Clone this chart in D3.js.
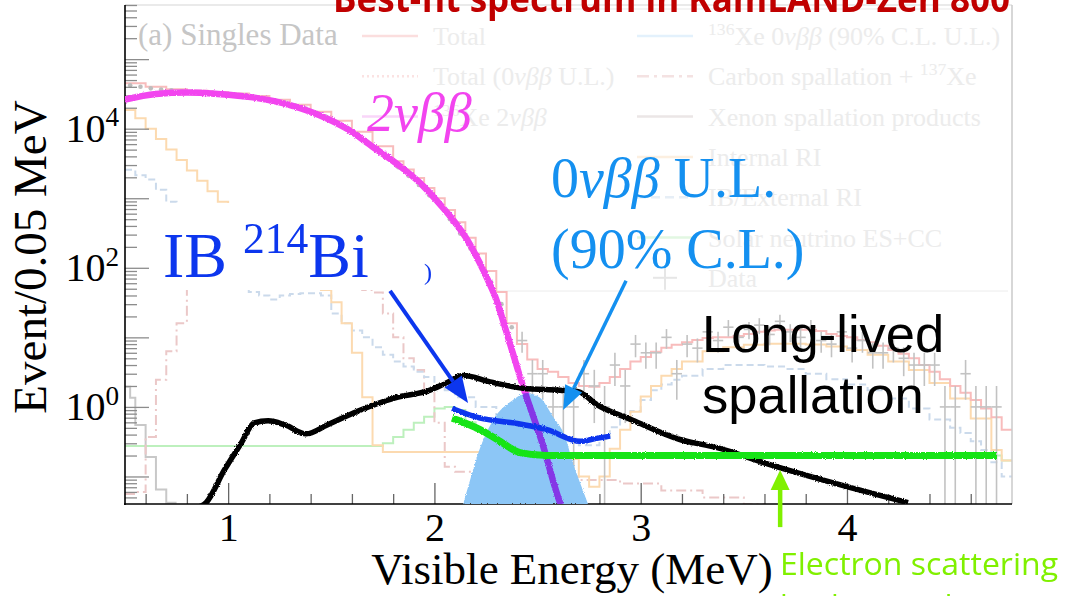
<!DOCTYPE html>
<html>
<head>
<meta charset="utf-8">
<title>Best-fit spectrum in KamLAND-Zen 800</title>
<script src="https://cdn.jsdelivr.net/npm/d3@7"></script>
<style>
  html, body { margin: 0; padding: 0; background: #fff; }
  svg { display: block; }
</style>
</head>
<body>
<svg id="chart" width="1066" height="596"></svg>
<script>
// ---------- data: [visible energy (MeV), events / 0.05 MeV] ----------

// faded histograms of the original figure (bin left edge, content)
const total_fit = [[0.5,45000],[0.6,40000],[0.7,37000],[0.8,35000],[0.9,33500],[1.0,32000],[1.1,29500],[1.2,26000],[1.3,22000],[1.4,17500],[1.5,13000],[1.6,9000],[1.7,5600],[1.8,3400],[1.85,2600],[1.9,1950],[1.95,1400],[2.0,1000],[2.05,680],[2.1,450],[2.15,270],[2.2,160],[2.25,90],[2.3,45],[2.35,16],[2.4,8],[2.45,4.8],[2.5,3.5],[2.55,3.2],[2.6,2.7],[2.65,2.2],[2.7,2.0],[2.75,1.95],[2.8,2.2],[2.85,2.7],[2.9,3.5],[2.95,4.5],[3.0,5.2],[3.05,6.2],[3.1,7.1],[3.15,7.8],[3.2,8.5],[3.25,9.2],[3.3,9.8],[3.35,10],[3.4,10],[3.45,10.5],[3.5,11.2],[3.55,12],[3.6,12.6],[3.65,12.9],[3.7,12.9],[3.75,12.9],[3.8,12.9],[3.85,12.3],[3.9,11.2],[3.95,10.5],[4.0,10],[4.05,9.2],[4.1,8.5],[4.15,7.6],[4.2,6.6],[4.25,5.8],[4.3,5.0],[4.35,4.0],[4.4,3.2],[4.45,2.5],[4.5,2.0],[4.55,1.6],[4.6,1.26],[4.65,0.95],[4.7,0.71],[4.75,0.47]];
const internal_ri = [[0.5,18600],[0.55,14100],[0.6,10000],[0.65,7080],[0.7,5010],[0.75,3550],[0.8,2510],[0.85,1780],[0.9,1260],[0.95,891],[1.0,631],[1.05,447],[1.1,316],[1.15,224],[1.2,178],[1.25,126],[1.3,100],[1.35,79],[1.4,63],[1.45,48],[1.5,32],[1.55,16],[1.6,6.0],[1.65,1.38],[1.7,0.28],[1.75,0.224],[2.6,0.2],[2.65,0.178],[2.7,0.1],[2.75,0.071],[2.8,0.1],[2.85,0.25],[2.9,0.47],[2.95,0.85],[3.0,1.41],[3.05,2.0],[3.1,2.8],[3.15,3.5],[3.2,4.5],[3.3,6.3],[3.4,7.2],[3.5,7.8],[3.6,8.1],[3.7,8.1],[3.8,7.9],[3.9,7.4],[4.0,6.6],[4.1,5.6],[4.2,4.5],[4.3,3.4],[4.4,2.2],[4.5,1.32],[4.6,0.68],[4.7,0.24],[4.75,0.17]];
const external_ri = [[0.5,2570],[0.55,2140],[0.6,1860],[0.65,1320],[0.7,890],[0.75,630],[0.8,400],[0.85,250],[0.9,160],[0.95,100],[1.0,71],[1.05,50],[1.1,45],[1.15,40],[1.2,35],[1.25,40],[1.3,42],[1.35,43],[1.4,43],[1.45,40],[1.5,22],[1.55,16],[1.6,12.6],[1.65,10],[1.7,7.2],[1.75,5.6],[1.8,4.5],[1.85,3.8],[1.9,3.2],[1.95,2.7],[2.0,2.0],[2.05,1.74],[2.1,1.38],[2.2,1.0],[2.3,0.71],[2.4,0.5],[2.5,0.4],[2.6,0.32],[2.7,0.28],[2.8,0.35],[2.85,0.51],[2.9,0.71],[2.95,0.87],[3.0,1.26],[3.05,1.74],[3.1,2.1],[3.15,2.45],[3.2,2.8],[3.3,3.5],[3.4,4.0],[3.5,4.0],[3.6,3.8],[3.7,3.5],[3.8,3.0],[3.9,2.5],[4.0,2.1],[4.1,1.74],[4.2,1.32],[4.3,0.95],[4.4,0.66],[4.5,0.5],[4.55,0.42],[4.6,0.32],[4.65,0.24],[4.7,0.16],[4.75,0.1]];
const carbon_spall = [[0.5,0.056],[0.55,0.06],[0.6,0.37],[0.65,2.45],[0.7,6.3],[0.75,16],[0.8,63],[0.85,100],[1.65,48],[1.7,44],[1.75,22],[1.8,10],[1.85,5],[1.9,3.4],[1.95,1.74],[2.0,0.59],[2.05,0.138],[2.1,0.117],[2.3,0.112],[2.5,0.1],[2.7,0.089],[2.9,0.079],[3.1,0.063],[3.3,0.05],[3.5,0.04]];
const xenon_spall = [[0.5,1.95],[0.525,1.35],[0.55,0.55],[0.6,0.19],[0.65,0.065],[0.7,0.042]];
const solar_nu = [[0.5,0.275],[1.75,0.3],[1.8,0.37],[1.85,0.47],[1.9,0.59],[1.95,0.72],[2.0,0.95],[2.05,1.0],[2.1,0.9],[2.15,0.6],[2.2,0.45],[2.25,0.35],[2.3,0.28],[2.35,0.23],[2.4,0.2],[4.75,0.17]];

// singles data (bin centre, counts)
const data_low = [[0.525,42000],[0.575,40000],[0.625,38000],[0.675,36500],[0.725,35500],[0.775,34500],[0.825,34000],[0.875,33500],[0.925,33000],[0.975,32000],[1.025,31000],[1.075,30000],[1.125,28500],[1.175,27000],[1.225,25500],[1.275,23500],[1.325,21500],[1.375,19500],[1.425,17000],[1.475,14800],[1.525,12500],[1.575,10400],[1.625,8400],[1.675,6500],[1.725,5000],[1.775,3800],[1.825,2800],[1.875,2100],[1.925,1550],[1.975,1100],[2.025,760],[2.075,500],[2.125,310],[2.175,190],[2.225,115],[2.275,62],[2.325,30],[2.375,14]];
const data_high = [[2.425,9],[2.475,3],[2.525,3],[2.575,1],[2.625,1],[2.675,1],[2.725,3],[2.775,2],[2.825,1],[2.875,4],[2.925,2],[2.975,8],[3.025,6],[3.075,6],[3.125,10],[3.175,3],[3.225,8],[3.275,7],[3.325,12],[3.375,9],[3.425,14],[3.475,10],[3.525,13],[3.575,15],[3.625,11],[3.675,17],[3.725,12],[3.775,10],[3.825,14],[3.875,9],[3.925,8],[3.975,12],[4.025,7],[4.075,9],[4.125,6],[4.175,6],[4.225,7],[4.275,5],[4.325,4],[4.375,4],[4.425,4],[4.475,1],[4.525,1],[4.575,3],[4.625,1],[4.675,1],[4.725,1]];

// highlighted components drawn over the faded figure
const two_nu_bb = [[0.5,26300],[0.65,31600],[0.8,33100],[0.95,31600],[1.12,28200],[1.3,21900],[1.446,15500],[1.58,9800],[1.7,5500],[1.82,3090],[1.93,1660],[2.01,930],[2.09,490],[2.16,250],[2.22,117],[2.26,66],[2.3,35],[2.35,11.7],[2.43,1.95],[2.52,0.32],[2.61,0.041],[2.64,0.025]];
const zero_nu_bb_ul = [[2.139,0.04],[2.173,0.089],[2.222,0.26],[2.285,0.65],[2.381,1.26],[2.449,1.58],[2.512,1.35],[2.575,0.72],[2.634,0.37],[2.672,0.155],[2.706,0.081],[2.745,0.04]];
const long_lived = [[0.84,0.035],[0.893,0.042],[0.981,0.123],[1.063,0.30],[1.126,0.59],[1.194,0.63],[1.276,0.55],[1.378,0.41],[1.48,0.55],[1.645,0.91],[1.81,1.35],[1.979,1.74],[2.062,2.24],[2.139,2.82],[2.27,2.29],[2.43,1.86],[2.609,1.74],[2.697,1.66],[2.789,1.07],[2.958,0.65],[3.19,0.34],[3.37,0.26],[3.618,0.151],[3.947,0.079],[4.296,0.042]];
const ib_bi214 = [[2.086,0.95],[2.222,0.69],[2.381,0.59],[2.546,0.47],[2.706,0.32],[2.78,0.35],[2.852,0.38]];
const electron_scatter = [[2.086,0.69],[2.222,0.47],[2.304,0.34],[2.415,0.22],[2.546,0.2],[3.0,0.2],[3.5,0.2],[4.0,0.2],[4.5,0.2],[4.727,0.2]];

// axis ticks and labels
const x_tick_labels = [1, 2, 3, 4];
const x_minor_ticks = [0.6, 0.8, 1.2, 1.4, 1.6, 1.8, 2.2, 2.4, 2.6, 2.8, 3.2, 3.4, 3.6, 3.8, 4.2, 4.4, 4.6];
const y_label_powers = [0, 2, 4];

// ---------- layout ----------
const SERIF = "'Liberation Serif', 'Times New Roman', serif";
const SANS = "'Liberation Sans', Arial, sans-serif";
const svg = d3.select('#chart');
const area = { left: 125, right: 1012, top: 5, bottom: 504 };

const x_scale = d3.scaleLinear().domain([0.5, 4.8]).range([area.left, area.right]);
const y_scale = d3.scaleLog().domain([0.0402, 6.0e5]).range([area.bottom, area.top]);

const defs = svg.append('defs');
defs.append('clipPath').attr('id', 'plot-clip')
  .append('rect')
  .attr('x', area.left).attr('y', area.top)
  .attr('width', area.right - area.left).attr('height', area.bottom - area.top)
  ;

// jagged "marker pen" edge for the highlighted curves
const rough = defs.append('filter').attr('id', 'rough')
  .attr('x', '-5%').attr('y', '-20%').attr('width', '110%').attr('height', '140%');
rough.append('feTurbulence')
  .attr('type', 'fractalNoise').attr('baseFrequency', 0.9).attr('numOctaves', 1).attr('seed', 4)
  .attr('result', 'noise');
rough.append('feDisplacementMap')
  .attr('in', 'SourceGraphic').attr('in2', 'noise').attr('scale', 3)
  .attr('xChannelSelector', 'R').attr('yChannelSelector', 'G');

const step_line = d3.line()
  .x(d => x_scale(d[0]))
  .y(d => y_scale(d[1]))
  .curve(d3.curveStepAfter);

const smooth_line = d3.line()
  .x(d => x_scale(d[0]))
  .y(d => y_scale(d[1]))
  .curve(d3.curveMonotoneX);

function close_hist(bins, end) {
  return bins.concat([[end, bins[bins.length - 1][1]]]);
}

// rich text: parts = [[text, style]], style: '', 'it', 'sup'
function rich_text(sel, parts, size) {
  let raised = false;
  parts.forEach(p => {
    const t = sel.append('tspan').text(p[0]);
    if (p[1] === 'it') t.attr('font-style', 'italic');
    if (p[1] === 'sup' && !raised) { t.attr('font-size', size * 0.68).attr('dy', -size * 0.38); raised = true; }
    else if (p[1] === 'sup') t.attr('font-size', size * 0.68);
    else if (raised) { t.attr('dy', size * 0.38); raised = false; }
  });
  return sel;
}

// ---------- faded legend of the original figure ----------
const faded = svg.append('g');
faded.append('line').attr('x1', 497).attr('x2', 1008).attr('y1', 9).attr('y2', 9).attr('stroke', '#e9e9e9');
faded.append('line').attr('x1', 490).attr('x2', 1008).attr('y1', 291).attr('y2', 291).attr('stroke', '#ececec');

faded.append('text')
  .attr('x', 138).attr('y', 45)
  .attr('font-family', SERIF).attr('font-size', 31)
  .attr('fill', '#c6c6c6')
  .text('(a) Singles Data')
  ;

const legend_rows = [
  { col: 0, row: 0, color: '#fbdede', dash: null, parts: [['Total', '']] },
  { col: 0, row: 1, color: '#fbe2e2', dash: '2,3', parts: [['Total (', ''], ['0', ''], ['νββ', 'it'], [' U.L.)', '']] },
  { col: 0, row: 2, color: '#f9d6f9', dash: null, parts: [['136', 'sup'], ['Xe ', ''], ['2', ''], ['νββ', 'it']] },
  { col: 1, row: 0, color: '#e3f1fc', dash: null, parts: [['136', 'sup'], ['Xe 0', ''], ['νββ', 'it'], [' (90% C.L. U.L.)', '']] },
  { col: 1, row: 1, color: '#f4e2e2', dash: '12,5,3,5', parts: [['Carbon spallation + ', ''], ['137', 'sup'], ['Xe', '']] },
  { col: 1, row: 2, color: '#ebe6e6', dash: null, parts: [['Xenon spallation products', '']] },
  { col: 1, row: 3, color: '#fcefe0', dash: null, parts: [['Internal RI', '']] },
  { col: 1, row: 4, color: '#e6eef6', dash: '9,5', parts: [['IB/External RI', '']] },
  { col: 1, row: 5, color: '#e2f7e2', dash: null, parts: [['Solar neutrino ES+CC', '']] },
  { col: 1, row: 6, color: '#e6e6e6', dash: null, parts: [['Data', '']] }
];
const legend_col_x = [362, 637];
legend_rows.forEach(r => {
  const lx = legend_col_x[r.col];
  const ly = 36 + r.row * 40.3;
  if (r.parts[0][0] === 'Data') {
    faded.append('line').attr('x1', lx + 16).attr('x2', lx + 40).attr('y1', ly).attr('y2', ly).attr('stroke', r.color).attr('stroke-width', 2);
    faded.append('line').attr('x1', lx + 28).attr('x2', lx + 28).attr('y1', ly - 12).attr('y2', ly + 12).attr('stroke', r.color).attr('stroke-width', 2);
  } else {
    faded.append('line')
      .attr('x1', lx).attr('x2', lx + 56).attr('y1', ly).attr('y2', ly)
      .attr('stroke', r.color).attr('stroke-width', 2.5)
      .attr('stroke-dasharray', r.dash)
      ;
  }
  rich_text(
    faded.append('text')
      .attr('x', lx + 71).attr('y', ly + 9)
      .attr('font-family', SERIF).attr('font-size', 26)
      .attr('fill', '#ececec'),
    r.parts, 26);
});

// ---------- faded histograms and data ----------
const plot = svg.append('g').attr('clip-path', 'url(#plot-clip)');

const hist_styles = [
  { bins: close_hist(solar_nu, 4.8), color: '#bdf0bd', dash: null },
  { bins: close_hist(xenon_spall, 0.75), color: '#c8c8c8', dash: null },
  { bins: close_hist(carbon_spall, 3.6), color: '#ebc8c8', dash: '10,4,2,4' },
  { bins: close_hist(external_ri, 4.8), color: '#cbdaeb', dash: '7,4' },
  { bins: close_hist(internal_ri, 4.8), color: '#fcdab0', dash: null },
  { bins: close_hist(total_fit, 4.8), color: '#f8bcbc', dash: null }
];
plot.selectAll('path.hist')
  .data(hist_styles)
  .enter()
  .append('path')
  .attr('class', 'hist')
  .attr('d', d => step_line(d.bins))
  .attr('fill', 'none')
  .attr('stroke', d => d.color)
  .attr('stroke-width', 2)
  .attr('stroke-dasharray', d => d.dash)
  ;

plot.selectAll('circle.data')
  .data(data_low)
  .enter()
  .append('circle')
  .attr('class', 'data')
  .attr('cx', d => x_scale(d[0]))
  .attr('cy', d => y_scale(d[1]))
  .attr('r', 2.3)
  .attr('fill', '#bdbdbd')
  ;

const bars = plot.selectAll('g.data-err')
  .data(data_high)
  .enter()
  .append('g')
  .attr('class', 'data-err')
  .attr('stroke', '#c2c2c2')
  .attr('stroke-width', 1.6)
  ;
bars.append('line')
  .attr('x1', d => x_scale(d[0])).attr('x2', d => x_scale(d[0]))
  .attr('y1', d => y_scale(d[1] + Math.sqrt(d[1])))
  .attr('y2', d => y_scale(Math.max(d[1] - Math.sqrt(d[1]), 0.01)))
  ;
bars.append('line')
  .attr('x1', d => x_scale(d[0] - 0.025)).attr('x2', d => x_scale(d[0] + 0.025))
  .attr('y1', d => y_scale(d[1])).attr('y2', d => y_scale(d[1]))
  ;

// ---------- axes ----------
const axes = svg.append('g');
axes.append('line')
  .attr('x1', area.left).attr('x2', area.right).attr('y1', area.top).attr('y2', area.top)
  .attr('stroke', '#d6d6d6').attr('stroke-width', 1.2);
axes.append('line')
  .attr('x1', area.right).attr('x2', area.right).attr('y1', area.top).attr('y2', area.bottom)
  .attr('stroke', '#cacaca').attr('stroke-width', 1.5);

const x_major = axes.append('g')
  .attr('transform', `translate(0,${area.bottom})`)
  .call(d3.axisBottom(x_scale).tickValues(x_tick_labels).tickSize(-21).tickPadding(9).tickFormat(d3.format('d')));
x_major.select('.domain').remove();
x_major.selectAll('line').attr('stroke', '#666').attr('stroke-width', 1.3);
x_major.selectAll('text')
  .attr('font-family', SERIF).attr('font-size', 40).attr('fill', '#000');

const x_minor = axes.append('g')
  .attr('transform', `translate(0,${area.bottom})`)
  .call(d3.axisBottom(x_scale).tickValues(x_minor_ticks).tickSize(-10).tickFormat(''));
x_minor.select('.domain').remove();
x_minor.selectAll('line').attr('stroke', '#666').attr('stroke-width', 1.3);

const y_major_ticks = [];
const y_minor_ticks = [];
for (let p = -2; p <= 5; p++) {
  for (let k = 1; k <= 9; k++) {
    const v = k * Math.pow(10, p);
    if (v < y_scale.domain()[0] || v > y_scale.domain()[1]) continue;
    (k === 1 ? y_major_ticks : y_minor_ticks).push(v);
  }
}
const y_major = axes.append('g')
  .attr('transform', `translate(${area.left},0)`)
  .call(d3.axisLeft(y_scale).tickValues(y_major_ticks).tickSize(-24).tickFormat(''));
const y_minor = axes.append('g')
  .attr('transform', `translate(${area.left},0)`)
  .call(d3.axisLeft(y_scale).tickValues(y_minor_ticks).tickSize(-12).tickFormat(''));
[y_major, y_minor].forEach(g => {
  g.select('.domain').remove();
  g.selectAll('line').attr('stroke', '#8c8c8c').attr('stroke-width', 1.3);
});

axes.append('line')
  .attr('x1', area.left).attr('x2', area.left).attr('y1', area.top).attr('y2', area.bottom + 1)
  .attr('stroke', '#000').attr('stroke-width', 1.6);
axes.append('line')
  .attr('x1', area.left - 1).attr('x2', area.right).attr('y1', area.bottom).attr('y2', area.bottom)
  .attr('stroke', '#000').attr('stroke-width', 1.6);

axes.selectAll('text.ylab')
  .data(y_label_powers)
  .enter()
  .append('text')
  .attr('class', 'ylab')
  .attr('x', 119)
  .attr('y', d => y_scale(Math.pow(10, d)) + 13)
  .attr('text-anchor', 'end')
  .attr('font-family', SERIF).attr('font-size', 40)
  .each(function (d) { rich_text(d3.select(this), [['10', ''], [String(d), 'sup']], 40); })
  ;

svg.append('text')
  .attr('transform', 'translate(46,257) rotate(-90)')
  .attr('text-anchor', 'middle')
  .attr('font-family', SERIF).attr('font-size', 47)
  .text('Event/0.05 MeV')
  ;
svg.append('text')
  .attr('x', 572).attr('y', 584)
  .attr('text-anchor', 'middle')
  .attr('font-family', SERIF).attr('font-size', 45)
  .text('Visible Energy (MeV)')
  ;

// white patch behind the IB label
svg.append('rect').attr('x', 150).attr('y', 203).attr('width', 290).attr('height', 87).attr('fill', '#fff');

// ---------- highlighted components ----------
const hi = svg.append('g').attr('clip-path', 'url(#plot-clip)');

hi.append('path')
  .attr('d', smooth_line(two_nu_bb))
  .attr('fill', 'none').attr('stroke', '#f244ef').attr('stroke-width', 6.5)
  .attr('filter', 'url(#rough)')
  ;

const zero_area = d3.area()
  .x(d => x_scale(d[0]))
  .y0(area.bottom)
  .y1(d => y_scale(d[1]))
  .curve(d3.curveMonotoneX);
hi.append('path')
  .attr('d', zero_area(zero_nu_bb_ul))
  .attr('fill', '#8cc6f6')
  .style('mix-blend-mode', 'multiply')
  .attr('filter', 'url(#rough)')
  ;

hi.append('path')
  .attr('d', smooth_line(long_lived))
  .attr('fill', 'none').attr('stroke', '#000').attr('stroke-width', 5.5)
  .attr('filter', 'url(#rough)')
  ;
hi.append('path')
  .attr('d', smooth_line(electron_scatter))
  .attr('fill', 'none').attr('stroke', '#12e412').attr('stroke-width', 7)
  .attr('filter', 'url(#rough)')
  ;
hi.append('path')
  .attr('d', smooth_line(ib_bi214))
  .attr('fill', 'none').attr('stroke', '#0c36ee').attr('stroke-width', 5.5)
  .attr('filter', 'url(#rough)')
  ;

// ---------- annotations ----------
function arrow(from, to, color, width, head_len, head_w) {
  const x0 = x_scale(from[0]), y0 = y_scale(from[1]);
  const x1 = x_scale(to[0]), y1 = y_scale(to[1]);
  const a = Math.atan2(y1 - y0, x1 - x0);
  const bx = x1 - head_len * Math.cos(a), by = y1 - head_len * Math.sin(a);
  const nx = Math.sin(a) * head_w / 2, ny = -Math.cos(a) * head_w / 2;
  svg.append('line')
    .attr('x1', x0).attr('y1', y0).attr('x2', bx).attr('y2', by)
    .attr('stroke', color).attr('stroke-width', width);
  svg.append('path')
    .attr('d', `M${x1},${y1}L${bx + nx},${by + ny}L${bx - nx},${by - ny}Z`)
    .attr('fill', color);
}
arrow([1.785, 46.7], [2.163, 1.14], '#0c36ee', 4, 26, 21);
arrow([2.929, 65], [2.624, 0.906], '#1490f0', 3.5, 24, 19);
arrow([3.676, 0.0187], [3.676, 0.124], '#80f000', 4.5, 20, 19);

svg.append('text')
  .attr('x', 367).attr('y', 131)
  .attr('font-family', SERIF).attr('font-size', 54).attr('font-style', 'italic')
  .attr('fill', '#f244ef')
  .text('2νββ')
  ;

rich_text(
  svg.append('text')
    .attr('x', 163).attr('y', 277)
    .attr('font-family', SERIF).attr('font-size', 64)
    .attr('fill', '#0c36ee'),
  [['IB ', ''], ['214', 'sup'], ['Bi', '']], 64);
svg.append('text')
  .attr('x', 424).attr('y', 280)
  .attr('font-family', SERIF).attr('font-size', 24)
  .attr('fill', '#0c36ee')
  .text(')')
  ;

rich_text(
  svg.append('text')
    .attr('x', 551).attr('y', 197)
    .attr('font-family', SERIF).attr('font-size', 56)
    .attr('fill', '#1490f0'),
  [['0', ''], ['νββ', 'it'], [' U.L.', '']], 56);
svg.append('text')
  .attr('x', 551).attr('y', 268)
  .attr('font-family', SERIF).attr('font-size', 56)
  .attr('fill', '#1490f0')
  .text('(90% C.L.)')
  ;

svg.append('text')
  .attr('x', 702).attr('y', 352)
  .attr('font-family', SANS).attr('font-size', 52.5)
  .text('Long-lived')
  ;
svg.append('text')
  .attr('x', 702).attr('y', 413)
  .attr('font-family', SANS).attr('font-size', 52.5)
  .text('spallation')
  ;

svg.append('text')
  .attr('x', 780).attr('y', 575)
  .attr('font-family', "'Open Sans', sans-serif").attr('font-size', 31)
  .attr('textLength', 278).attr('lengthAdjust', 'spacingAndGlyphs')
  .attr('fill', '#80f000')
  .text('Electron scattering')
  ;
svg.append('text')
  .attr('x', 780).attr('y', 617)
  .attr('font-family', "'Open Sans', sans-serif").attr('font-size', 31)
  .attr('fill', '#80f000')
  .text('background')
  ;

// title, cut by the top edge
svg.append('text')
  .attr('x', 333).attr('y', 12)
  .attr('font-family', "'Open Sans', sans-serif").attr('font-size', 38).attr('font-weight', 'bold')
  .attr('textLength', 677).attr('lengthAdjust', 'spacingAndGlyphs')
  .attr('fill', '#c00000')
  .text('Best-fit spectrum in KamLAND-Zen 800')
  ;
</script>
</body>
</html>
